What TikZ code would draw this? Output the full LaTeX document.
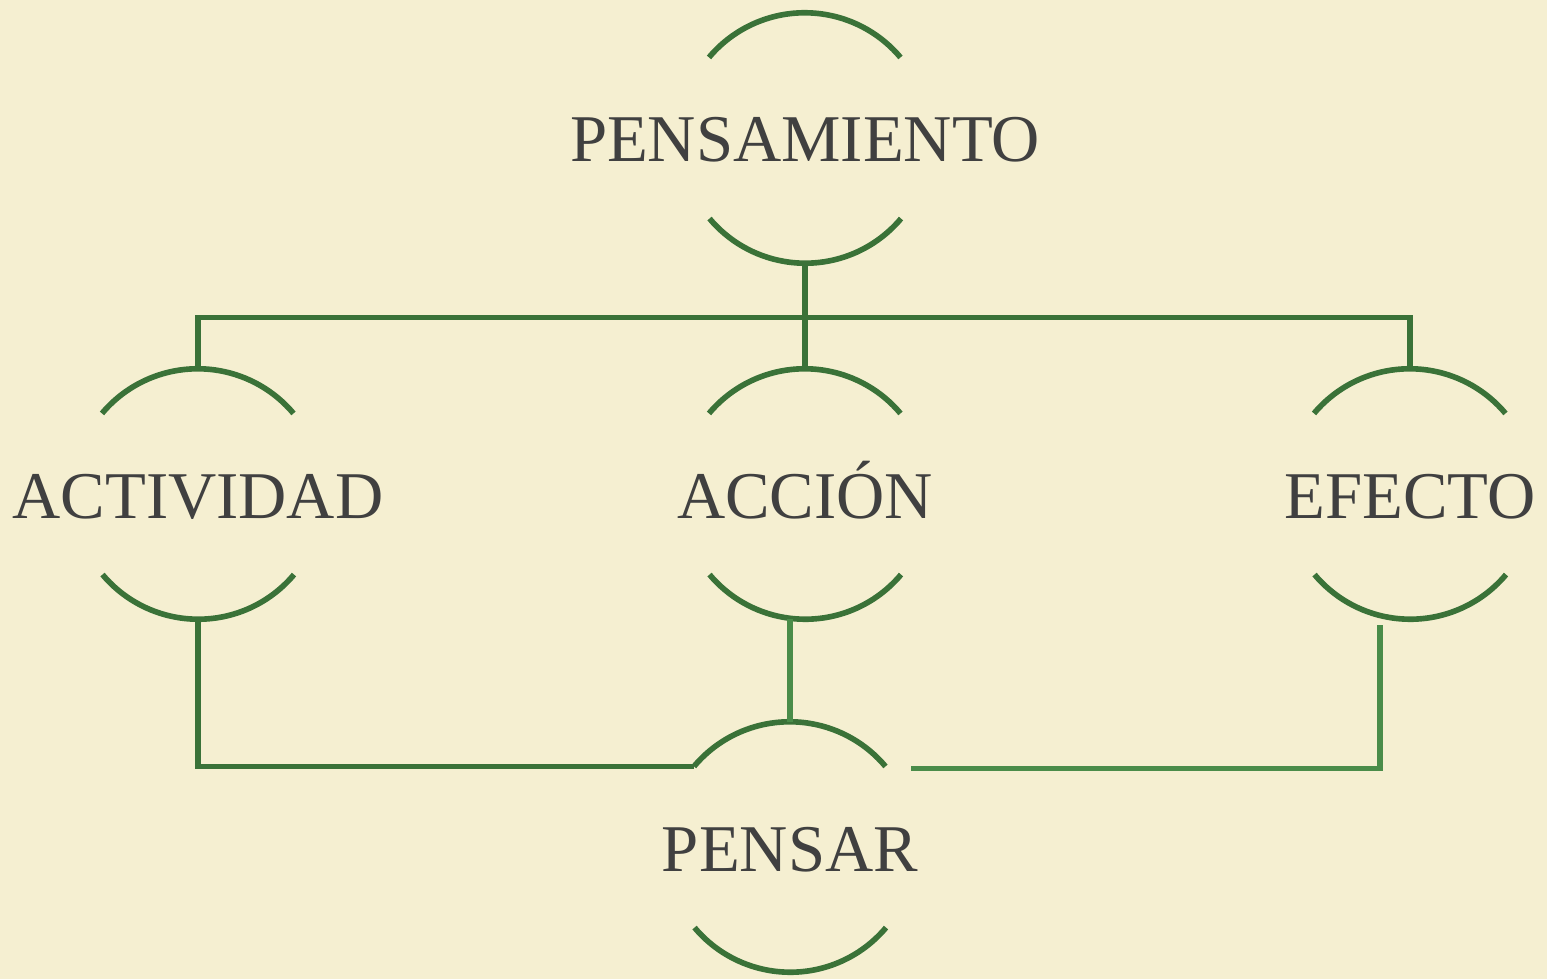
\documentclass[tikz,border=0pt]{standalone}
\usepackage{fontspec}
\setmainfont{Liberation Serif}
\usepackage{xcolor}
\usetikzlibrary{positioning}
\definecolor{paper}{HTML}{F5EFD1}
\definecolor{darkleaf}{HTML}{3A7238}
\definecolor{lightleaf}{HTML}{4A8C49}
\definecolor{ink}{HTML}{404040}
\tikzset{
  ring/.style={circle, minimum size=5cm, inner sep=0pt},
  word/.style={text=ink, font=\fontsize{38}{38}\selectfont, inner sep=0pt, anchor=base},
  arcline/.style={draw=darkleaf, line width=3.2pt},
  link/.style={draw=darkleaf, line width=3.2pt},
  softlink/.style={draw=lightleaf, line width=3.2pt}
}
\newcommand{\cupcap}[1]{%
  \draw[arcline] (#1.140) arc[start angle=140, end angle=40, radius=2.5cm];
  \draw[arcline] (#1.-40) arc[start angle=-40, end angle=-140, radius=2.5cm];}
\begin{document}
\begin{tikzpicture}
            \fill[paper] (0,0) rectangle (30.94,-19.58);
            \useasboundingbox (0,0) rectangle (30.94,-19.58);
            % rings
            \node[ring] (pm) at (16.10,-2.76) {};
            \node[ring] (act) at (3.96,-9.88) {};
            \node[ring] (acc) at (16.10,-9.88) {};
            \node[ring] (efe) at (28.20,-9.88) {};
            \node[ring] (ps) at (15.80,-16.94) {};
            \cupcap{pm}
            \cupcap{act}
            \cupcap{acc}
            \cupcap{efe}
            \cupcap{ps}
            % words
            \node[word] (pm-t) at ([yshift=-0.48cm]pm.center) {PENSAMIENTO};
            \node[word] (act-t) at ([yshift=-0.48cm]act.center) {ACTIVIDAD};
            \node[word] (acc-t) at ([yshift=-0.48cm]acc.center) {ACCIÓN};
            \node[word] (efe-t) at ([yshift=-0.48cm]efe.center) {EFECTO};
            \node[word] (ps-t) at ([yshift=-0.48cm]ps.center) {PENSAR};
            % upper connectors
            \coordinate (hub) at ([yshift=-1.08cm]pm.south);
            \draw[link] (pm.south) -- (hub);
            \draw[link] (act.north) |- (hub) -| (efe.north);
            \draw[link] (hub) -- (acc.north);
            % lower connectors
            \draw[link] (act.south) |- (ps.140);
            \draw[softlink] (ps.north) -- (ps.north |- acc.south);
            \coordinate (efe-b) at ([xshift=-0.6cm, yshift=-0.12cm]efe.south);
            \coordinate (ps-r) at ([xshift=0.5cm, yshift=-0.04cm]ps.40);
            \draw[softlink] (efe-b) |- (ps-r);
\end{tikzpicture}
\end{document}
